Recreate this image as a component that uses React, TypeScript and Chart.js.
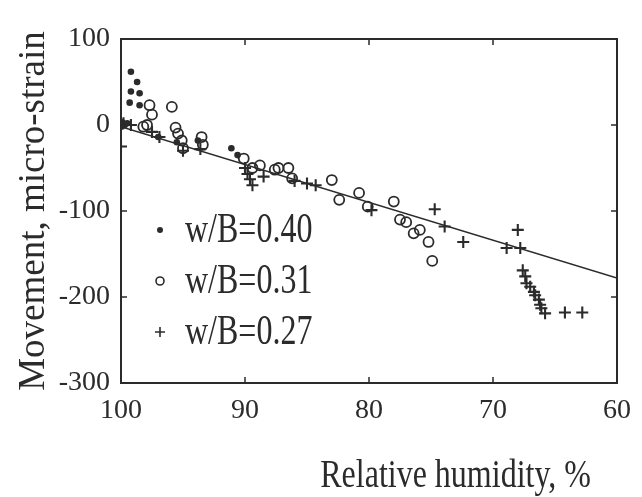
import React, { useEffect, useRef } from "react";
import { Chart, registerables } from "chart.js";

Chart.register(...registerables);

const INK = "#2b2b2b";
const SERIF = "'Liberation Serif', 'Times New Roman', serif";

const xTickValues = [100, 90, 80, 70, 60];
const yTickValues = [100, 0, -100, -200, -300];
const seriesLabels = ["w/B=0.40", "w/B=0.31", "w/B=0.27"];
const xAxisTitle = "Relative humidity, %";
const yAxisTitle = "Movement, micro-strain";

// w/B = 0.40 (filled dots)
const rh040 = [99.2, 98.7, 99.2, 98.5, 99.3, 98.5, 99.9, 99.7, 100, 99.5, 97.0, 95.5, 93.8, 91.1, 90.6];
const mv040 = [62, 50, 39, 37, 26, 23, 3, 0, -2, 2, -14, -20, -18, -27, -35];

// w/B = 0.31 (open circles)
const rh031 = [97.7, 95.9, 97.5, 97.9, 98.2, 95.6, 95.4, 95.1, 95.0, 93.5, 93.4, 90.1, 89.4, 88.8, 87.6, 87.3, 86.5, 86.2, 83.0, 82.4, 80.8, 80.1, 78.0, 77.5, 77.0, 76.4, 75.9, 75.2, 74.9];
const mv031 = [23, 21, 12, 0, -2, -3, -10, -18, -27, -14, -23, -39, -50, -47, -52, -50, -50, -62, -64, -87, -79, -95, -89, -110, -113, -126, -122, -136, -158];

// w/B = 0.27 (crosses)
const rh027 = [100, 99.8, 99.2, 97.5, 96.9, 95.0, 93.6, 90.0, 89.8, 89.6, 89.4, 88.5, 86.0, 85.0, 84.3, 79.8, 74.7, 73.9, 72.4, 68.0, 68.9, 67.8, 67.6, 67.4, 67.3, 67.0, 66.7, 66.6, 66.3, 66.2, 66.1, 65.8, 64.2, 62.8];
const mv027 = [-25, 2, 0, -8, -14, -30, -28, -50, -57, -63, -70, -60, -65, -68, -70, -99, -98, -118, -136, -122, -143, -143, -169, -176, -184, -188, -194, -198, -203, -209, -213, -219, -218, -218];

// fitted regression line
const fitRh = [100, 60];
const fitMv = [-2, -178];

const toPts = (xs: number[], ys: number[]) => xs.map((x, i) => ({ x, y: ys[i] }));

const framePlugin = {
  id: "frameTicks",
  afterDatasetsDraw(chart: any) {
    const { ctx, chartArea } = chart;
    const { left, right, top, bottom } = chartArea;
    const xs = chart.scales.x;
    const ys = chart.scales.y;
    const len = 6;
    ctx.save();
    ctx.strokeStyle = INK;
    ctx.lineWidth = 2;
    ctx.strokeRect(left, top, right - left, bottom - top);
    ctx.lineWidth = 1.5;
    ctx.beginPath();
    xs.ticks.forEach((t: any) => {
      const px = xs.getPixelForValue(t.value);
      ctx.moveTo(px, bottom);
      ctx.lineTo(px, bottom - len);
      ctx.moveTo(px, top);
      ctx.lineTo(px, top + len);
    });
    ys.ticks.forEach((t: any) => {
      const py = ys.getPixelForValue(t.value);
      ctx.moveTo(left, py);
      ctx.lineTo(left + len, py);
      ctx.moveTo(right, py);
      ctx.lineTo(right - len, py);
    });
    ctx.stroke();
    ctx.restore();
  },
};

const legendPlugin = {
  id: "insideLegend",
  afterDraw(chart: any) {
    const { ctx, chartArea } = chart;
    const mx = chartArea.left + 39;
    const tx = chartArea.left + 64;
    ctx.save();
    ctx.fillStyle = INK;
    ctx.strokeStyle = INK;
    ctx.lineWidth = 1.6;
    seriesLabels.forEach((lab, i) => {
      const base = chartArea.top + 203 + i * 51;
      const my = base - 12;
      ctx.beginPath();
      if (i === 0) {
        ctx.arc(mx, my, 3, 0, Math.PI * 2);
        ctx.fill();
      } else if (i === 1) {
        ctx.arc(mx, my, 4, 0, Math.PI * 2);
        ctx.stroke();
      } else {
        ctx.moveTo(mx - 5, my);
        ctx.lineTo(mx + 5, my);
        ctx.moveTo(mx, my - 5);
        ctx.lineTo(mx, my + 5);
        ctx.stroke();
      }
      ctx.save();
      ctx.translate(tx, base);
      ctx.scale(1, 1.3);
      ctx.font = `32px ${SERIF}`;
      ctx.textBaseline = "alphabetic";
      ctx.textAlign = "left";
      ctx.fillText(lab, 0, 0);
      ctx.restore();
    });
    // x-axis title, right-aligned near the end of the axis
    ctx.save();
    ctx.translate(chartArea.right - 26, chart.height - 10);
    ctx.scale(1, 1.25);
    ctx.font = `32px ${SERIF}`;
    ctx.textBaseline = "alphabetic";
    ctx.textAlign = "right";
    ctx.fillText(xAxisTitle, 0, 0);
    ctx.restore();
    ctx.restore();
  },
};

export default function App() {
  const ref = useRef<HTMLCanvasElement | null>(null);

  useEffect(() => {
    if (!ref.current) return;
    const chart = new Chart(ref.current, {
      type: "scatter",
      data: {
        datasets: [
          {
            label: seriesLabels[0],
            data: toPts(rh040, mv040),
            pointStyle: "circle",
            pointRadius: 3.3,
            backgroundColor: INK,
            borderColor: INK,
            borderWidth: 0,
          },
          {
            label: seriesLabels[1],
            data: toPts(rh031, mv031),
            pointStyle: "circle",
            pointRadius: 5,
            backgroundColor: "rgba(0,0,0,0)",
            borderColor: INK,
            borderWidth: 1.8,
          },
          {
            label: seriesLabels[2],
            data: toPts(rh027, mv027),
            pointStyle: "cross",
            pointRadius: 6,
            backgroundColor: INK,
            borderColor: INK,
            borderWidth: 2.1,
          },
          {
            type: "line",
            label: "fit",
            data: toPts(fitRh, fitMv),
            showLine: true,
            pointRadius: 0,
            borderColor: INK,
            borderWidth: 1.6,
            fill: false,
          } as any,
        ],
      },
      options: {
        animation: false,
        responsive: true,
        maintainAspectRatio: false,
        layout: { padding: { top: 39, right: 24, left: 0, bottom: 0 } },
        plugins: { legend: { display: false }, tooltip: { enabled: false } },
        scales: {
          x: {
            type: "linear",
            min: 60,
            max: 100,
            reverse: true,
            border: { display: false },
            grid: { display: false, drawTicks: false },
            afterBuildTicks: (s: any) => {
              s.ticks = xTickValues.map((v) => ({ value: v }));
            },
            afterFit: (s: any) => {
              s.height = 114;
            },
            ticks: {
              color: INK,
              padding: 11,
              maxRotation: 0,
              font: { family: SERIF, size: 28 },
            },
            title: { display: false },
          },
          y: {
            type: "linear",
            min: -300,
            max: 100,
            border: { display: false },
            grid: { display: false, drawTicks: false },
            afterBuildTicks: (s: any) => {
              s.ticks = yTickValues.map((v) => ({ value: v }));
            },
            afterFit: (s: any) => {
              s.width = 121;
            },
            ticks: {
              color: INK,
              padding: 11,
              font: { family: SERIF, size: 28 },
            },
            title: {
              display: true,
              text: yAxisTitle,
              color: INK,
              font: { family: SERIF, size: 37 },
              padding: { top: 12, bottom: 0 },
            },
          },
        },
      },
      plugins: [framePlugin, legendPlugin],
    });
    return () => chart.destroy();
  }, []);

  return (
    <div style={{ position: "fixed", left: 0, top: 0, width: 642, height: 497, background: "#fff" }}>
      <canvas ref={ref} />
    </div>
  );
}
